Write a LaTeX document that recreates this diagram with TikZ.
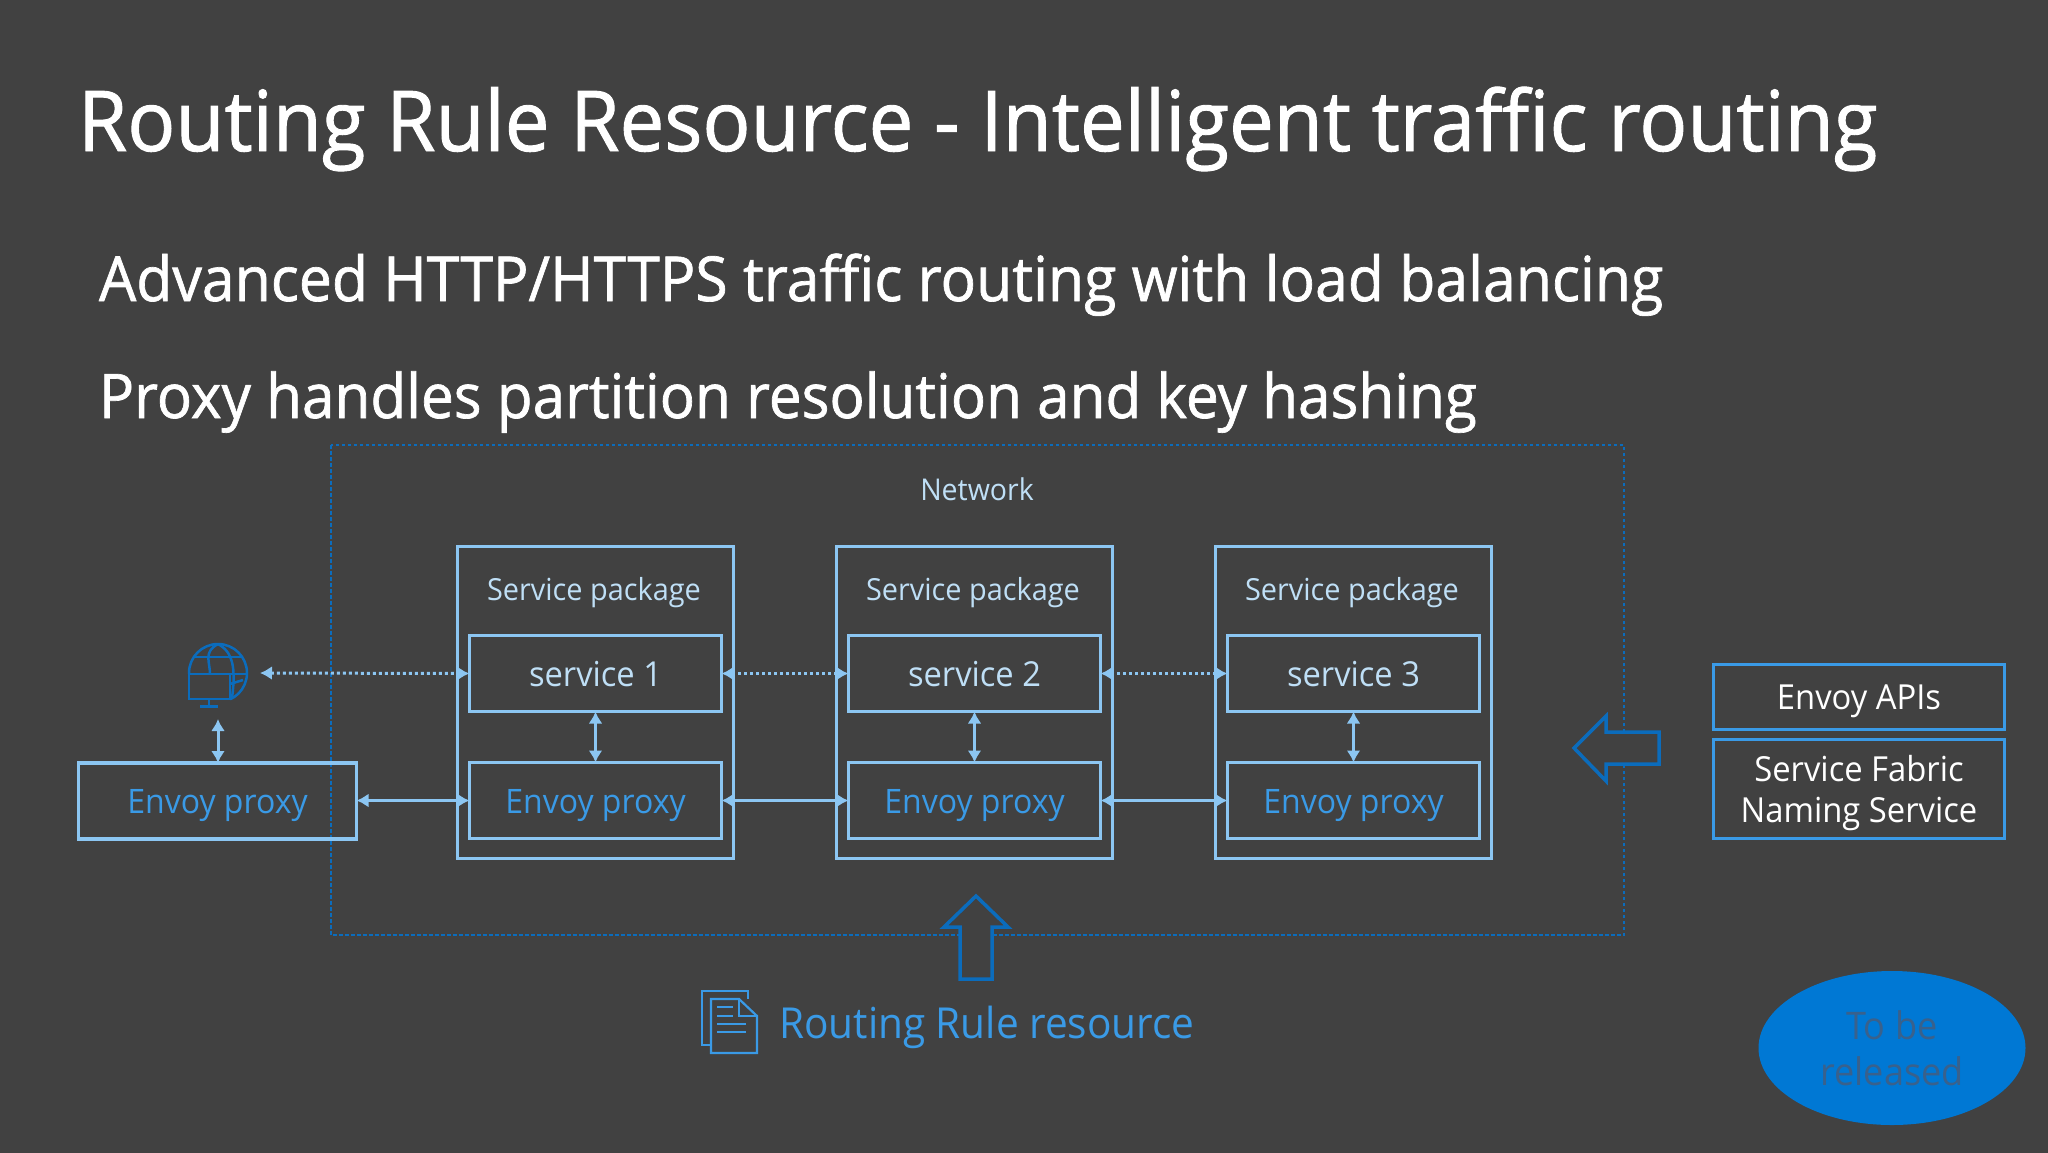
\documentclass[tikz,border=0pt]{standalone}
\usepackage{fontspec}
\setmainfont{Open Sans}[FakeStretch=0.95]
\newfontfamily\headfont{Open Sans}[FakeStretch=0.95,FakeBold=1.1]
\usetikzlibrary{arrows.meta,shapes.geometric}
\definecolor{bgc}{HTML}{414141}
\definecolor{lightb}{HTML}{8CC6F2}
\definecolor{midb}{HTML}{3A9AE6}
\definecolor{darkb}{HTML}{0B6CBC}
\definecolor{fillb}{HTML}{0078D4}
\definecolor{labc}{HTML}{BFDFF6}
\definecolor{ellt}{HTML}{39618C}
\newcommand{\fs}[1]{\fontsize{#1}{#1}\selectfont}
\tikzset{
  x=1pt,y=-1pt,
  lbl/.style={inner sep=0pt,outer sep=0pt,anchor=center,align=center},
  headline/.style={inner sep=0pt,outer sep=0pt,anchor=base west,text=white},
  pkgbox/.style={draw=lightb,line width=3.5pt,minimum width=276pt,minimum height=312pt,inner sep=0pt,outer sep=0pt},
  innerbox/.style={draw=lightb,line width=3.5pt,minimum width=252pt,minimum height=76pt,inner sep=0pt,outer sep=0pt,text height=25pt,text depth=0pt},
  svc/.style={innerbox,text=labc,font=\fs{34.4}},
  prx/.style={innerbox,text=midb,font=\fs{33.7}},
  sidebox/.style={draw=midb,line width=3.5pt,minimum width=291pt,inner sep=0pt,outer sep=0pt,text=white,align=center,text depth=0pt},
  solidlink/.style={draw=lightb,line width=3pt,{Latex[length=12pt,width=14pt]}-{Latex[length=12pt,width=14pt]}},
  dotlink/.style={draw=lightb,line width=3pt,dash pattern=on 3pt off 3pt,{Latex[length=12pt,width=14pt]}-{Latex[length=12pt,width=14pt]}},
  blockarrow/.style={draw=darkb,line width=3.5pt,line join=miter},
  iconline/.style={draw=darkb,line width=2.5pt},
  docline/.style={draw=midb,line width=2.2pt}
}
\begin{document}
\begin{tikzpicture}
\useasboundingbox (0,0) rectangle (2048,1152);
\fill[bgc] (-5,-5) rectangle (2053,1157);

\node[headline,font=\headfont\fs{84}] (title) at (78,151) {Routing Rule Resource - Intelligent traffic routing};
\node[headline,font=\headfont\fs{62}] (sub1) at (99,301) {Advanced HTTP/HTTPS traffic routing with load balancing};
\node[headline,font=\headfont\fs{61.5}] (sub2) at (99,418) {Proxy handles partition resolution and key hashing};

% network
\draw[draw=darkb,line width=2.6pt,dash pattern=on 3.5pt off 2.5pt] (331,445) rectangle (1624,935);
\node[lbl,text=labc,font=\fs{30}] (net) at (977,489) {Network};

% packages
\node[pkgbox] (p1) at (595.5,702.5) {};
\node[pkgbox] (p2) at (974.5,702.5) {};
\node[pkgbox] (p3) at (1353.5,702.5) {};
\node[lbl,text=labc,font=\fs{30.4}] (p1t) at (594,593) {Service package};
\node[lbl,text=labc,font=\fs{30.4}] (p2t) at (973,593) {Service package};
\node[lbl,text=labc,font=\fs{30.4}] (p3t) at (1352,593) {Service package};

\node[svc] (s1) at (595.5,673.5) {service 1};
\node[svc] (s2) at (974.5,673.5) {service 2};
\node[svc] (s3) at (1353.5,673.5) {service 3};
\node[prx] (e1) at (595.5,800.5) {Envoy proxy};
\node[prx] (e2) at (974.5,800.5) {Envoy proxy};
\node[prx] (e3) at (1353.5,800.5) {Envoy proxy};
\node[prx,minimum width=278pt] (e0) at (217.5,801) {Envoy proxy};

% globe icon
\begin{scope}
\clip (150,640) rectangle (250,674) (230,674) rectangle (250,700);
\draw[iconline] (218,673) circle[radius=29];
\draw[iconline] (218,644) .. controls (203,652) and (210,662) .. (210,674);
\draw[iconline] (218,644) .. controls (233,652) and (236,668) .. (232,698);
\draw[iconline] (195,657) -- (241,657);
\draw[iconline] (190,674) -- (246,674);
\draw[iconline] (230,684) -- (243,680);
\end{scope}
\draw[iconline] (189,674) rectangle (230,699);
\draw[iconline] (209,699) -- (209,706);
\draw[iconline] (200,706.5) -- (218,706.5);
\coordinate (gr) at (260,673);
\coordinate (gb) at (218,719);

% connectors
\draw[dotlink] (gr) -- (s1.west);
\draw[dotlink] (s1.east) -- (s2.west);
\draw[dotlink] (s2.east) -- (s3.west);
\draw[solidlink] (gb) -- (e0.north -| gb);
\draw[solidlink] (e0.east |- e1.west) -- (e1.west);
\draw[solidlink] (e1.east) -- (e2.west);
\draw[solidlink] (e2.east) -- (e3.west);
\draw[solidlink] (s1.south) -- (e1.north);
\draw[solidlink] (s2.south) -- (e2.north);
\draw[solidlink] (s3.south) -- (e3.north);

% block arrows
\draw[blockarrow,fill=bgc] (976,896) -- (1008,927) -- (992,927) -- (992,979) -- (960,979) -- (960,927) -- (944,927) -- cycle;
\draw[blockarrow,fill=bgc] (1574,748) -- (1606,716) -- (1606,732) -- (1659,732) -- (1659,764) -- (1606,764) -- (1606,781) -- cycle;

% doc icon
\draw[docline] (711,1045) -- (702,1045) -- (702,991) -- (748,991) -- (748,999);
\draw[docline] (711,999) -- (739,999) -- (757,1016) -- (757,1053) -- (711,1053) -- cycle;
\draw[docline] (739,999) -- (739,1016) -- (757,1016);
\draw[docline] (717,1007) -- (733,1007);
\draw[docline] (717,1016) -- (733,1016);
\draw[docline] (717,1024) -- (746,1024);
\draw[docline] (717,1032) -- (746,1032);
\node[inner sep=0pt,anchor=base west,text=midb,font=\fs{42.7}] (rr) at (779,1038) {Routing Rule resource};

% right boxes
\node[sidebox,minimum height=65pt,font=\fs{34.5},text height=25pt] (api) at (1859,697) {Envoy APIs};
\node[sidebox,minimum height=99pt,font=\fontsize{34.5}{41}\selectfont] (ns) at (1859,789) {Service Fabric\\Naming Service};

% ellipse
\node[ellipse,fill=fillb,minimum width=267pt,minimum height=154pt,inner sep=0pt,text=ellt,align=center,font=\fontsize{38}{46}\selectfont] (rel) at (1892,1048) {To be\\released};
\end{tikzpicture}
\end{document}
